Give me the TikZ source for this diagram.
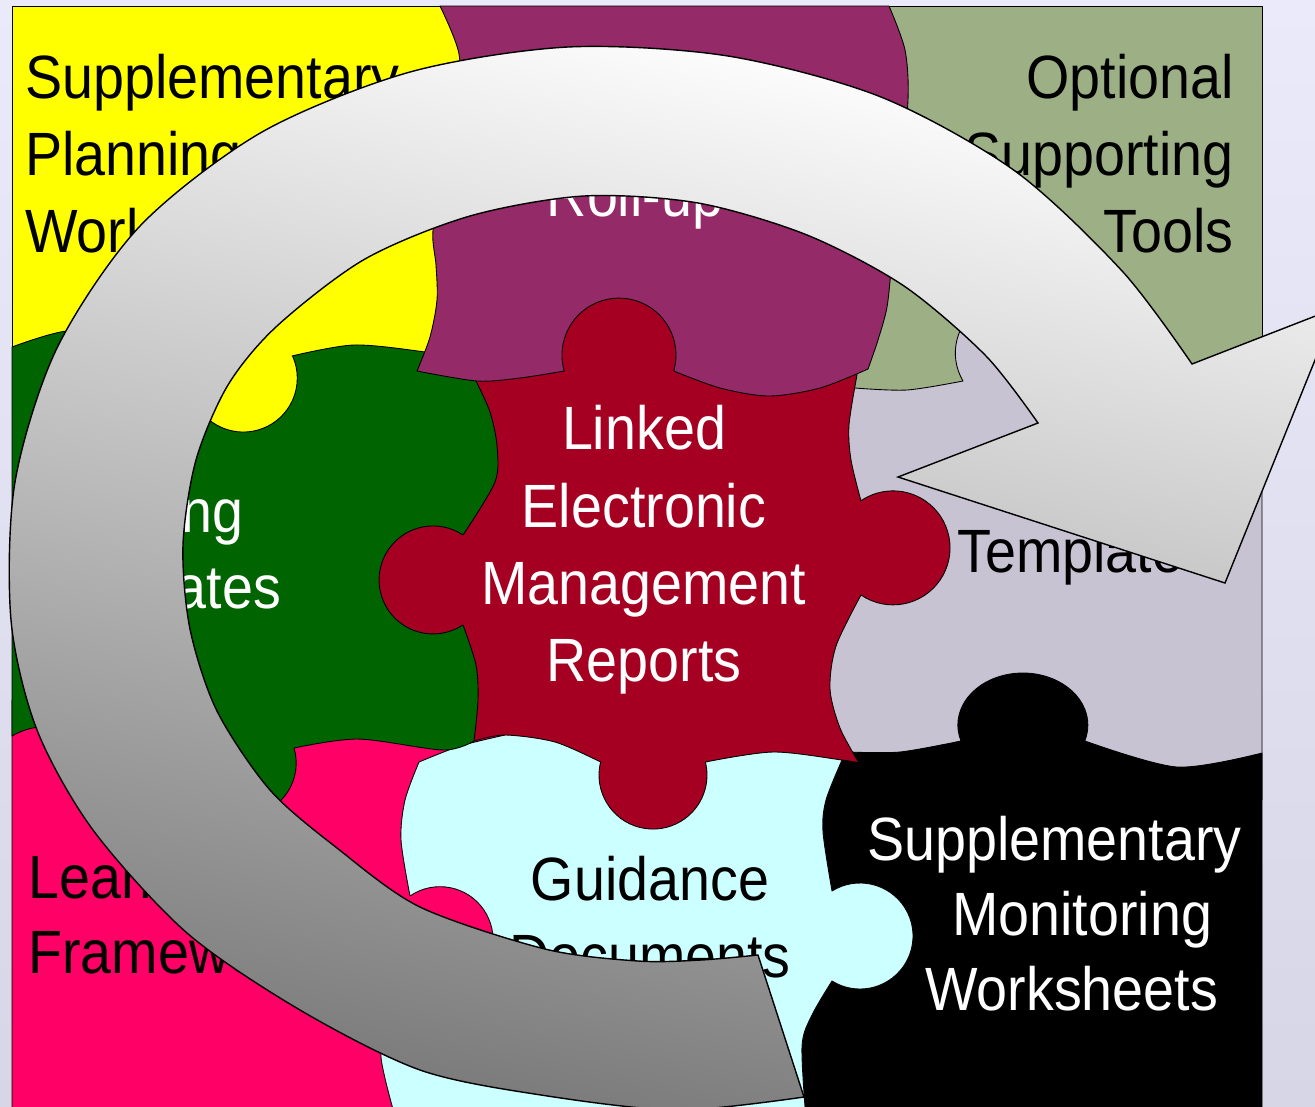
\documentclass[tikz,border=0pt]{standalone}
\usepackage{fontspec}
\setmainfont{Liberation Sans}[FakeStretch=0.91]
\definecolor{pYellow}{RGB}{255,255,0}
\definecolor{pPurple}{RGB}{149,42,104}
\definecolor{pOlive}{RGB}{157,176,133}
\definecolor{pGreen}{RGB}{0,100,0}
\definecolor{pRed}{RGB}{165,0,33}
\definecolor{pLav}{RGB}{200,195,211}
\definecolor{pPink}{RGB}{255,0,102}
\definecolor{pCyan}{RGB}{204,255,255}
\definecolor{bgTop}{RGB}{234,234,250}
\definecolor{bgBot}{RGB}{214,214,230}
\definecolor{arrMid}{RGB}{200,200,200}
\definecolor{arrDark}{RGB}{122,122,122}
\begin{document}
\begin{tikzpicture}[x=0.02cm,y=-0.02cm,
  piece/.style={draw=black,line width=0.5pt,line join=round},
  lbl/.style={inner sep=0pt,font=\fontsize{34.8}{42}\selectfont},
  arrowshape/.style={draw=black,line width=0.8pt,line join=miter,
    top color=white,middle color=arrMid,bottom color=arrDark,shading angle=-11}]
\useasboundingbox (0,0) rectangle (1315,1106);
\clip (0,0) rectangle (1315,1106);
\shade[top color=bgTop,bottom color=bgBot] (0,0) rectangle (1315,1106);

% yellow (top left)
\path[piece,fill=pYellow] (12,6) -- (480,6) -- (480,450) -- (12,450) -- cycle;
% olive (top right)
\path[piece,fill=pOlive] (850,6) -- (1262,6) -- (1262,430) -- (850,430) -- cycle;
% lavender (middle right)
\path[piece,fill=pLav] (840,395) -- plot[smooth] coordinates {(855,388) (907,390) (963,381)}
  arc[start angle=149.4,end angle=390.6,radius=55]
  -- plot[smooth] coordinates {(1059,380) (1130,385) (1200,370) (1262,350)}
  -- (1262,800) -- (820,800) -- (820,395) -- cycle;
% black (bottom right)
\path[piece,fill=black] (780,770) -- plot[smooth] coordinates {(849,752) (900,752) (961,741)}
  arc[start angle=162.1,end angle=377.9,x radius=65,y radius=52]
  -- plot[smooth] coordinates {(1085,741) (1177,767) (1262,753)}
  -- (1262,1120) -- (780,1120) -- cycle;
% cyan (bottom middle)
\path[piece,fill=pCyan] (370,720) -- (820,720) -- plot[smooth] coordinates {(842,760) (826,800) (823,832) (832,891)}
  arc[start angle=-121.9,end angle=121.9,radius=53]
  -- plot[smooth] coordinates {(832,981) (812,1015) (802,1046) (806,1120)}
  -- (370,1120) -- cycle;
% pink (bottom left)
\path[piece,fill=pPink] (12,700) -- (490,700) -- (505,735) -- plot[smooth] coordinates {(505,735) (460,746) (419,762)}
  -- plot[smooth] coordinates {(419,762) (405,800) (401,840) (410,896)}
  arc[start angle=-124.5,end angle=124.5,radius=53]
  -- plot[smooth] coordinates {(410,984) (390,1020) (381,1057) (396,1120)}
  -- (12,1120) -- cycle;
% green (middle left)
\path[piece,fill=pGreen] (12,347) -- plot[smooth] coordinates {(12,347) (67,331) (130,336) (194,356)}
  arc[start angle=204.1,end angle=-24.1,radius=54]
  -- plot[smooth] coordinates {(292,356) (354,345) (425,352) (480,362)}
  -- (520,362) -- (520,700) -- (474,741)
  -- plot[smooth] coordinates {(474,741) (443,750) (358,739) (294,748)}
  arc[start angle=-16.5,end angle=196.5,radius=53]
  -- plot[smooth] coordinates {(192,748) (130,738) (43,727) (12,736)} -- cycle;
% red (centre)
\path[piece,fill=pRed] (476,381) -- plot[smooth] coordinates {(476,381) (490,412) (497,446) (495,482) (463,535)}
  arc[start angle=-56.3,end angle=-303.7,radius=54]
  -- plot[smooth] coordinates {(463,625) (476,665) (478,700) (474,741)}
  -- plot[smooth] coordinates {(474,741) (505,735) (555,742) (600.6,762)}
  arc[start angle=194,end angle=-14,radius=54]
  -- plot[smooth] coordinates {(705.4,762) (773,752) (842,760) (859,763)}
  -- plot[smooth] coordinates {(859,763) (840,728) (830,689) (836,646) (861,595)}
  arc[start angle=124.2,end angle=-124.2,radius=57]
  -- plot[smooth] coordinates {(861,501) (851,460) (849,425) (857,375)}
  -- (857,295) -- (476,295) -- cycle;
% purple (top middle)
\path[piece,fill=pPurple] (440,6) -- (889,6)
  -- plot[smooth] coordinates {(889,6) (905,50) (908,100) (900,180) (892,260) (887,307) (878,340) (868,369)}
  -- plot[smooth] coordinates {(868,369) (820,388) (769,396) (720,388) (673.7,371)}
  arc[start angle=16.2,end angle=-196.2,radius=57]
  -- plot[smooth] coordinates {(564.3,371) (520,378) (477,381) (417,371)}
  -- plot[smooth] coordinates {(417,371) (430,337) (437,300) (436,265) (433,230) (445,170) (458,110) (459,54) (440,6)}
  -- cycle;

% labels
\node[lbl,anchor=base west] (yl1) at (25,98) {Supplementary};
\node[lbl,anchor=base west] (yl2) at (25,175) {Planning};
\node[lbl,anchor=base west] (yl3) at (25,252) {Worksheets};
\node[lbl,anchor=base east] (ol1) at (1234,98) {Optional};
\node[lbl,anchor=base east] (ol2) at (1234,175) {Supporting};
\node[lbl,anchor=base east] (ol3) at (1234,252) {Tools};
\node[lbl,anchor=base,text=white] (pl1) at (635,216) {Roll-up};
\node[lbl,anchor=base west,text=white] (gl1) at (27,532) {Planning};
\node[lbl,anchor=base west,text=white] (gl2) at (27,608) {Templates};
\node[lbl,anchor=base,text=white] (rl1) at (644,449) {Linked};
\node[lbl,anchor=base,text=white] (rl2) at (644,527) {Electronic};
\node[lbl,anchor=base,text=white] (rl3) at (644,604) {Management};
\node[lbl,anchor=base,text=white] (rl4) at (644,681) {Reports};
\node[lbl,anchor=base west] (ll1) at (957,497) {Reporting};
\node[lbl,anchor=base west] (ll2) at (957,572) {Templates};
\node[lbl,anchor=base west] (kl1) at (28,898) {Learning};
\node[lbl,anchor=base west] (kl2) at (28,973) {Framework};
\node[lbl,anchor=base] (cl1) at (650,900) {Guidance};
\node[lbl,anchor=base] (cl2) at (650,977) {Documents};
\node[lbl,anchor=base west,text=white] (bl1) at (867,860) {Supplementary};
\node[lbl,anchor=base west,text=white] (bl2) at (952,935) {Monitoring};
\node[lbl,anchor=base west,text=white] (bl3) at (925,1010) {Worksheets};

% circular arrow
\path[arrowshape] (1038,423) -- (898,477) -- (1225,583) -- (1336,308) -- (1192,364)
  -- plot[smooth] coordinates {(1192,364) (1123,272) (1015,171) (881,97) (728,56) (568,47) (410,72) (262,132) (140,226) (57,348) (15,482) (11,620) (37,730) (93,830) (187,933) (300,1010) (420,1070) (541,1095) (677,1110) (804,1097)}
  -- (758,955)
  -- plot[smooth] coordinates {(758,955) (701,960) (638,961) (545,949) (420,907) (337,848) (270,790) (217,711) (190,629) (183,545) (196,460) (228,385) (277,326) (365,259) (470,216) (584,196) (698,203) (807,235) (904,286) (986,356) (1038,423)}
  -- cycle;
\end{tikzpicture}
\end{document}
